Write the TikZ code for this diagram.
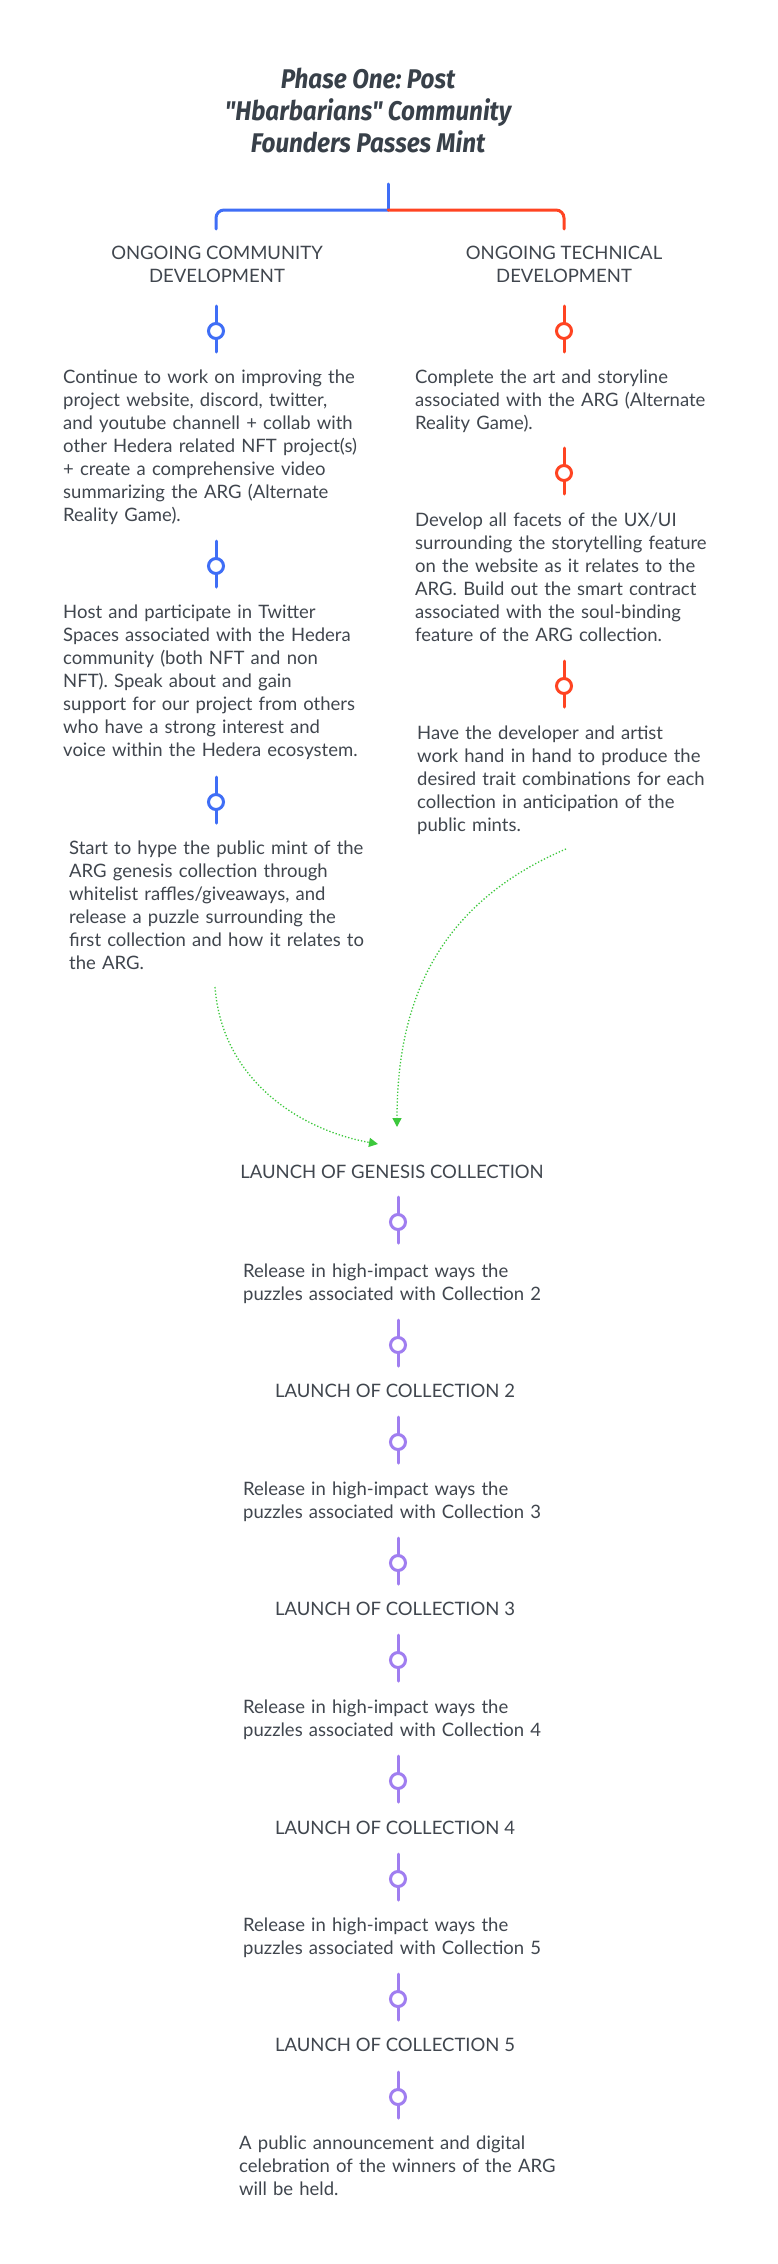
\documentclass[tikz,border=0pt]{standalone}
\usepackage{fontspec}
\setmainfont{Lato}
\newfontfamily\titlefont{Fira Sans}[FakeStretch=0.9]
\usetikzlibrary{arrows.meta}
\definecolor{ink}{HTML}{40464E}
\definecolor{titleink}{HTML}{384049}
\definecolor{commblue}{HTML}{3F6EF6}
\definecolor{techred}{HTML}{FF4422}
\definecolor{launchpurple}{HTML}{A07EF0}
\definecolor{hintgreen}{HTML}{3CC83C}
\newcommand\knob[3]{%
  \draw[#3, line width=3pt, line cap=round] (#1,#2-25) -- (#1,#2-7.5) (#1,#2+7.5) -- (#1,#2+21);
  \draw[#3, line width=3pt] (#1,#2) circle (7.5pt);}
\frenchspacing
\begin{document}
\begin{tikzpicture}[x=1pt, y=-1pt,
  note/.style={anchor=north west, inner sep=0pt, text width=340pt, align=left, text=ink,
    font=\fontsize{18.5}{23}\selectfont, execute at begin node=\strut},
  head/.style={anchor=north, inner sep=0pt, align=center, text=ink,
    font=\fontsize{18.5}{23}\selectfont, execute at begin node=\strut},
  stage/.style={anchor=base, inner sep=0pt, text=ink, font=\fontsize{18.5}{23}\selectfont},
  hint/.style={draw=hintgreen, line width=1.3pt, dotted, -{Triangle[length=9pt,width=9pt]}}]
\fill[white] (0,0) rectangle (778,2264);
\useasboundingbox (0,0) rectangle (778,2264);
\path
  (368,68) node[anchor=north, inner sep=0pt, align=center, text=titleink,
    font=\titlefont\bfseries\itshape\fontsize{27}{32}\selectfont,
    execute at begin node=\strut] (phase) {Phase One: Post\\"Hbarbarians" Community\\Founders Passes Mint}
  (217,246) node[head] (community) {ONGOING COMMUNITY\\DEVELOPMENT}
  (564,246) node[head] (technical) {ONGOING TECHNICAL\\DEVELOPMENT};
\coordinate (stem) at (388,184);
\coordinate (fork) at (388,210);
\draw[commblue, line width=3pt, line cap=round] (stem) -- (fork);
\draw[commblue, line width=3pt, line cap=round, rounded corners=8pt] (fork) -- (216,210) -- (216,229);
\draw[techred, line width=3pt, line cap=round, rounded corners=8pt] (fork) -- (564,210) -- (564,229);

\path
  (63,367) node[note] (c1) {Continue to work on improving the\\project website, discord, twitter,\\and youtube channell + collab with\\other Hedera related NFT project(s)\\+ create a comprehensive video\\summarizing the ARG (Alternate\\Reality Game).}
  (63,602) node[note] (c2) {Host and participate in Twitter\\Spaces associated with the Hedera\\community (both NFT and non\\NFT). Speak about and gain\\support for our project from others\\who have a strong interest and\\voice within the Hedera ecosystem.}
  (69,838) node[note] (c3) {Start to hype the public mint of the\\ARG genesis collection through\\whitelist raffles/giveaways, and\\release a puzzle surrounding the\\first collection and how it relates to\\the ARG.}
  (415,367) node[note] (t1) {Complete the art and storyline\\associated with the ARG (Alternate\\Reality Game).}
  (415,510) node[note] (t2) {Develop all facets of the UX/UI\\surrounding the storytelling feature\\on the website as it relates to the\\ARG. Build out the smart contract\\associated with the soul-binding\\feature of the ARG collection.}
  (417,723) node[note] (t3) {Have the developer and artist\\work hand in hand to produce the\\desired trait combinations for each\\collection in anticipation of the\\public mints.};
\knob{216}{331}{commblue}
\knob{216}{566}{commblue}
\knob{216}{802}{commblue}
\knob{564}{331}{techred}
\knob{564}{473}{techred}
\knob{564}{686}{techred}

\path
  (392,1178) node[stage] (genesis) {LAUNCH OF GENESIS COLLECTION}
  (243,1261) node[note] (puzzle2) {Release in high-impact ways the\\puzzles associated with Collection 2}
  (395,1397) node[stage] (launch2) {LAUNCH OF COLLECTION 2}
  (243,1479) node[note] (puzzle3) {Release in high-impact ways the\\puzzles associated with Collection 3}
  (395,1615) node[stage] (launch3) {LAUNCH OF COLLECTION 3}
  (243,1697) node[note] (puzzle4) {Release in high-impact ways the\\puzzles associated with Collection 4}
  (395,1834) node[stage] (launch4) {LAUNCH OF COLLECTION 4}
  (243,1915) node[note] (puzzle5) {Release in high-impact ways the\\puzzles associated with Collection 5}
  (395,2051) node[stage] (launch5) {LAUNCH OF COLLECTION 5}
  (239,2133) node[note] (winners) {A public announcement and digital\\celebration of the winners of the ARG\\will be held.};
\knob{398}{1222}{launchpurple}
\knob{398}{1345}{launchpurple}
\knob{398}{1442}{launchpurple}
\knob{398}{1563}{launchpurple}
\knob{398}{1660}{launchpurple}
\knob{398}{1781}{launchpurple}
\knob{398}{1879}{launchpurple}
\knob{398}{1999}{launchpurple}
\knob{398}{2097}{launchpurple}

\coordinate (c3tail) at (215,987);
\coordinate (t3tail) at (566,849);
\coordinate (genesisleft) at (378,1144);
\coordinate (genesistop) at (397,1127);
\draw[hint] (c3tail) .. controls (222,1080) and (300,1130) .. (genesisleft);
\draw[hint] (t3tail) .. controls (435,905) and (397,1005) .. (genesistop);
\end{tikzpicture}
\end{document}
